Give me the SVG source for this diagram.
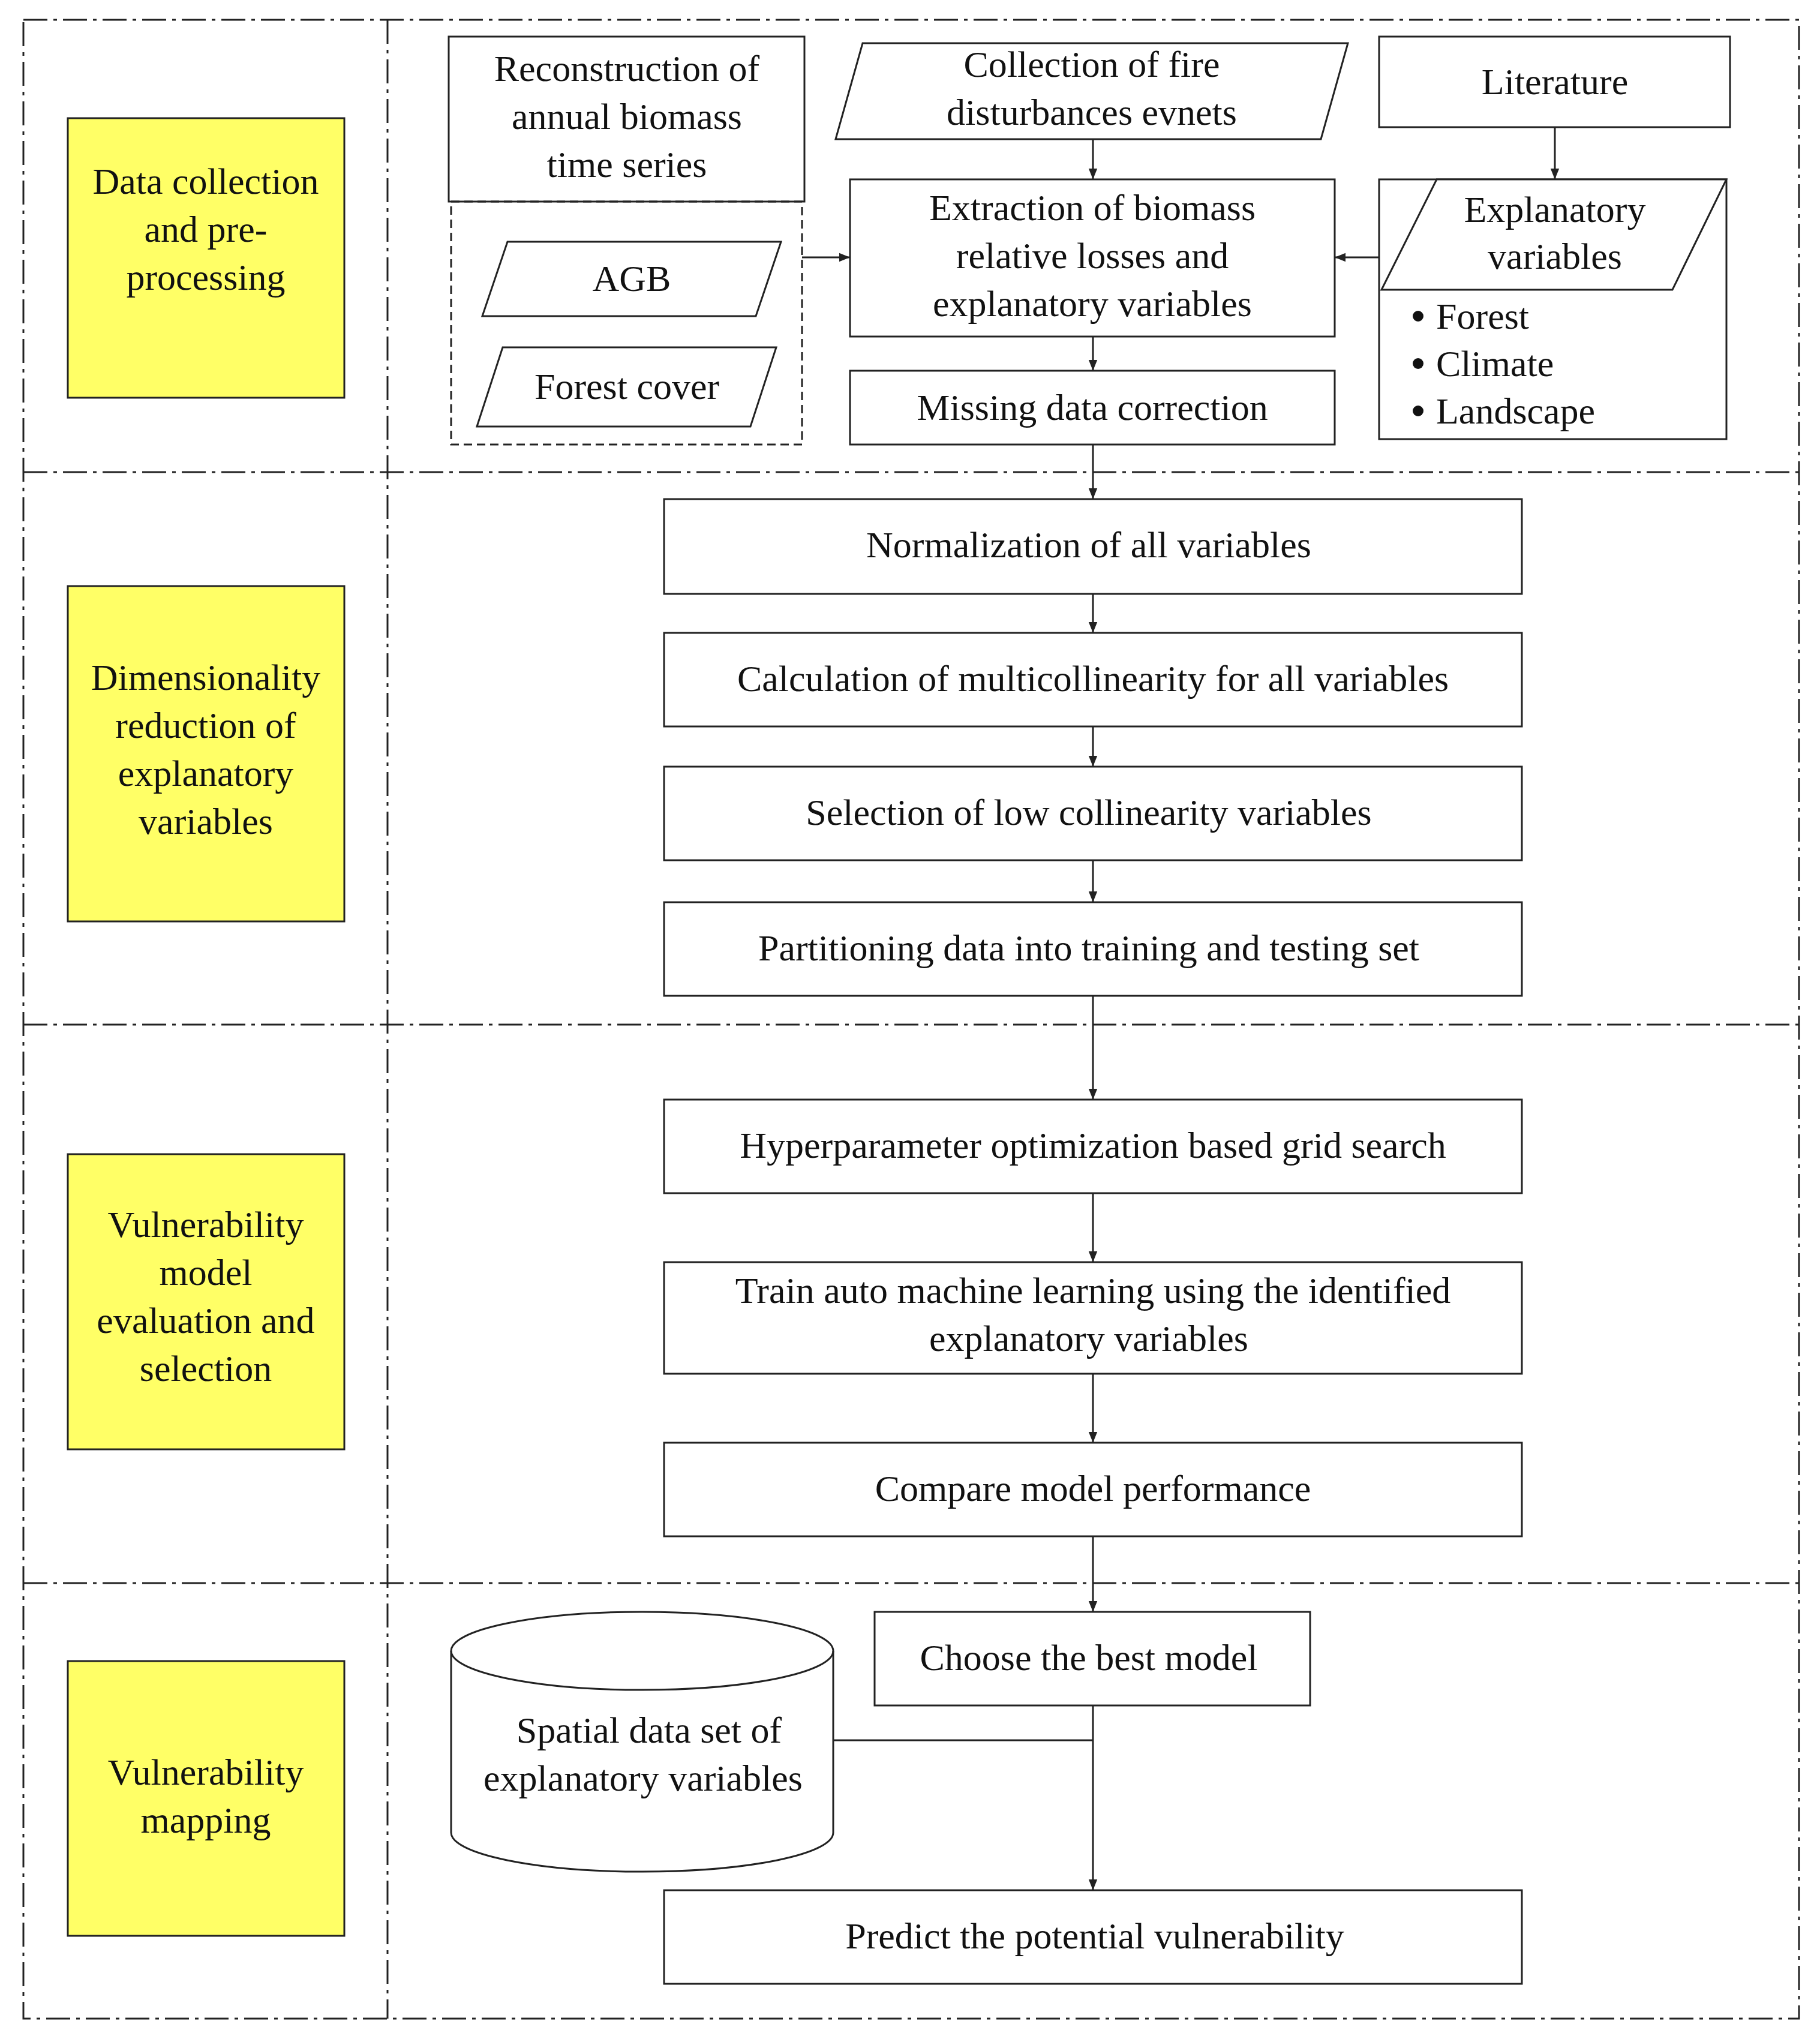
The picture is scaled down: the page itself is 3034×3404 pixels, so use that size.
<svg xmlns="http://www.w3.org/2000/svg" width="3034" height="3404" viewBox="0 0 3034 3404">
<style>
text{font-family:"Liberation Serif",serif;font-size:62px;fill:#111;text-anchor:middle}
.b{fill:#fff;stroke:#222;stroke-width:3}
.y{fill:#ffff66;stroke:#222;stroke-width:3}
.d{fill:none;stroke:#222;stroke-width:3;stroke-dasharray:40 10 6 10}
.c{fill:none;stroke:#222;stroke-width:3;marker-end:url(#a)}
</style>
<defs><marker id="a" viewBox="0 0 10 10" refX="10" refY="5" markerWidth="6" markerHeight="6" orient="auto"><path d="M0,1L10,5L0,9z" fill="#222"/></marker></defs>
<rect width="3034" height="3404" fill="#fff"/>
<g id="frame">
<rect class="d" x="39" y="33" width="2960" height="3332"/>
<line class="d" x1="646" y1="33" x2="646" y2="3365"/>
<line class="d" x1="39" y1="787" x2="2999" y2="787"/>
<line class="d" x1="39" y1="1708" x2="2999" y2="1708"/>
<line class="d" x1="39" y1="2639" x2="2999" y2="2639"/>
</g>
<g id="s1"><rect class="y" x="113" y="197" width="461" height="466"/><text x="343" y="323">Data collection</text><text x="343" y="403">and pre-</text><text x="343" y="483">processing</text></g>
<g id="s2"><rect class="y" x="113" y="977" width="461" height="559"/><text x="343" y="1150">Dimensionality</text><text x="343" y="1230">reduction of</text><text x="343" y="1310">explanatory</text><text x="343" y="1390">variables</text></g>
<g id="s3"><rect class="y" x="113" y="1924" width="461" height="492"/><text x="343" y="2062">Vulnerability</text><text x="343" y="2142">model</text><text x="343" y="2222">evaluation and</text><text x="343" y="2302">selection</text></g>
<g id="s4"><rect class="y" x="113" y="2769" width="461" height="458"/><text x="343" y="2975">Vulnerability</text><text x="343" y="3055">mapping</text></g>
<g id="recon"><rect class="b" x="748" y="61" width="593" height="275"/><text x="1045" y="135">Reconstruction of</text><text x="1045" y="215">annual biomass</text><text x="1045" y="295">time series</text></g>
<g id="inputs"><rect x="752" y="336" width="585" height="405" fill="none" stroke="#222" stroke-width="3" stroke-dasharray="14 8"/></g>
<g id="agb"><polygon class="b" points="846,403 1302,403 1260,527 804,527"/><text x="1053" y="485">AGB</text></g>
<g id="fc"><polygon class="b" points="838,579 1294,579 1251,711 795,711"/><text x="1045" y="665">Forest cover</text></g>
<g id="fire"><polygon class="b" points="1438,72 2247,72 2202,232 1393,232"/><text x="1820" y="128">Collection of fire</text><text x="1820" y="208">disturbances evnets</text></g>
<g id="lit"><rect class="b" x="2299" y="61" width="585" height="151"/><text x="2592" y="157">Literature</text></g>
<g id="extr"><rect class="b" x="1417" y="299" width="808" height="262"/><text x="1821" y="367">Extraction of biomass</text><text x="1821" y="447">relative losses and</text><text x="1821" y="527">explanatory variables</text></g>
<g id="miss"><rect class="b" x="1417" y="618" width="808" height="123"/><text x="1821" y="700">Missing data  correction</text></g>
<g id="expl"><rect class="b" x="2299" y="299" width="579" height="433"/><polygon class="b" points="2395,299 2878,299 2788,483 2303,483"/><text x="2592" y="370">Explanatory</text><text x="2592" y="448">variables</text>
<circle cx="2364" cy="527" r="9" fill="#111"/><circle cx="2364" cy="606" r="9" fill="#111"/><circle cx="2364" cy="685" r="9" fill="#111"/>
<text x="2394" y="548" style="text-anchor:start">Forest</text><text x="2394" y="627" style="text-anchor:start">Climate</text><text x="2394" y="706" style="text-anchor:start">Landscape</text></g>
<g id="n1"><rect class="b" x="1107" y="832" width="1430" height="158"/><text x="1815" y="929">Normalization of all variables</text></g>
<g id="n2"><rect class="b" x="1107" y="1055" width="1430" height="156"/><text x="1822" y="1152">Calculation of multicollinearity for all variables</text></g>
<g id="n3"><rect class="b" x="1107" y="1278" width="1430" height="156"/><text x="1815" y="1375">Selection of low collinearity variables</text></g>
<g id="n4"><rect class="b" x="1107" y="1504" width="1430" height="156"/><text x="1815" y="1601">Partitioning data into training and testing set</text></g>
<g id="n5"><rect class="b" x="1107" y="1833" width="1430" height="156"/><text x="1822" y="1930">Hyperparameter optimization based grid search</text></g>
<g id="n6"><rect class="b" x="1107" y="2104" width="1430" height="186"/><text x="1822" y="2172">Train auto machine learning using the identified</text><text x="1815" y="2252">explanatory variables</text></g>
<g id="n7"><rect class="b" x="1107" y="2405" width="1430" height="156"/><text x="1822" y="2502">Compare model performance</text></g>
<g id="n8"><rect class="b" x="1458" y="2687" width="726" height="156"/><text x="1815" y="2784">Choose the best model</text></g>
<g id="n9"><rect class="b" x="1107" y="3151" width="1430" height="156"/><text x="1825" y="3248">Predict the potential vulnerability</text></g>
<g id="db"><path class="b" d="M752,2752 V3055 A318.5,65 0 0 0 1389,3055 V2752 A318.5,65 0 0 0 752,2752 Z"/><path d="M752,2752 A318.5,65 0 0 0 1389,2752" fill="none" stroke="#222" stroke-width="3"/><text x="1082" y="2905">Spatial data set of</text><text x="1072" y="2985">explanatory variables</text></g>
<g id="connectors">
<line class="c" x1="1337" y1="429" x2="1417" y2="429"/>
<line class="c" x1="2299" y1="429" x2="2225" y2="429"/>
<line class="c" x1="1822" y1="232" x2="1822" y2="299"/>
<line class="c" x1="2592" y1="212" x2="2592" y2="299"/>
<line class="c" x1="1822" y1="561" x2="1822" y2="618"/>
<line class="c" x1="1822" y1="741" x2="1822" y2="832"/>
<line class="c" x1="1822" y1="990" x2="1822" y2="1055"/>
<line class="c" x1="1822" y1="1211" x2="1822" y2="1278"/>
<line class="c" x1="1822" y1="1434" x2="1822" y2="1504"/>
<line class="c" x1="1822" y1="1660" x2="1822" y2="1833"/>
<line class="c" x1="1822" y1="1989" x2="1822" y2="2104"/>
<line class="c" x1="1822" y1="2290" x2="1822" y2="2405"/>
<line class="c" x1="1822" y1="2561" x2="1822" y2="2687"/>
<line class="c" x1="1822" y1="2843" x2="1822" y2="3151"/>
<polyline fill="none" stroke="#222" stroke-width="3" points="1389,2901 1822,2901"/>
</g>
</svg>
